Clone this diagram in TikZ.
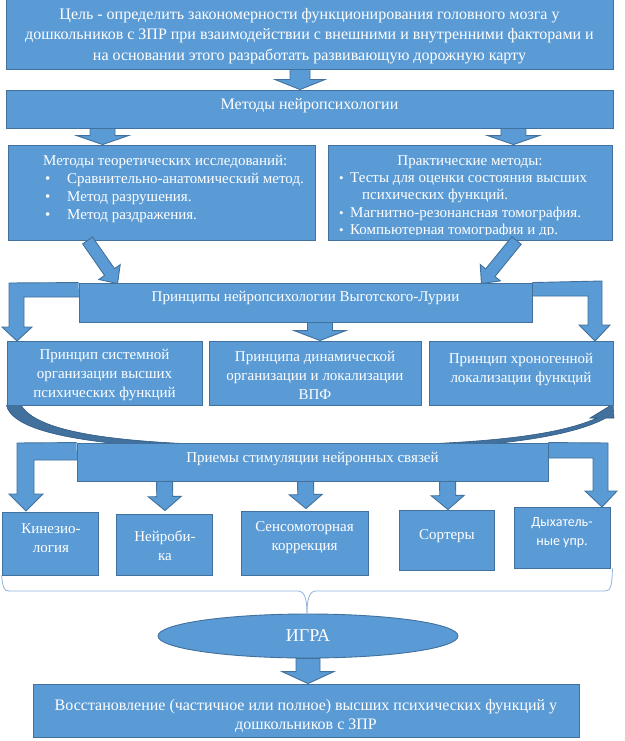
\documentclass[tikz,border=0pt]{standalone}
\usepackage{fontspec}
\setmainfont{Liberation Serif}
\newfontfamily\sansf{Carlito}
\usetikzlibrary{calc,shapes.geometric}
\pgfdeclarelayer{bg}
\pgfsetlayers{bg,main}
\definecolor{boxfill}{HTML}{5B9BD5}
\definecolor{boxline}{HTML}{41719C}
\definecolor{ribfill}{HTML}{41719C}
\definecolor{ribline}{HTML}{2F5A85}
\definecolor{bracecol}{HTML}{8FB4DE}
\newcommand\myfs[2]{\fontsize{#1bp}{#2bp}\selectfont}
\tikzset{
  box/.style={draw=boxline, fill=boxfill, line width=0.9bp, inner sep=0pt, rectangle},
  txt/.style={text=white, align=center, font=\myfs{15}{19}, inner sep=0pt},
  blockarrow/.style={draw=boxline, fill=boxfill, line width=0.9bp, line join=miter},
  ribbon/.style={draw=ribline, fill=ribfill, line width=0.6bp},
  bracel/.style={draw=bracecol, line width=0.8bp},
}
\newcommand\blockarr[5]{%
  \coordinate (ba-s) at #1;
  \coordinate (ba-t) at #2;
  \coordinate (ba-h) at ($(ba-t)!#5!(ba-s)$);
  \filldraw[blockarrow] ($(ba-s)!#3!90:(ba-t)$) -- ($(ba-h)!#3!90:(ba-t)$) -- ($(ba-h)!#4!90:(ba-t)$) -- (ba-t) -- ($(ba-h)!#4!-90:(ba-t)$) -- ($(ba-h)!#3!-90:(ba-t)$) -- ($(ba-s)!#3!-90:(ba-t)$) -- cycle;
}
\begin{document}
\begin{tikzpicture}[x=1bp,y=-1bp]
\useasboundingbox (0,0) rectangle (625,741);
\begin{pgfonlayer}{bg}
\fill[white] (0,0) rectangle (625,741);
\end{pgfonlayer}

% ---- boxes ----
\node[box, minimum width=607bp, minimum height=70bp] (goal) at (309.5,34) {};
\node[txt, font=\myfs{16}{20.5}] (goalt) at (309.5,36) {Цель - определить закономерности функционирования головного мозга у\\дошкольников с ЗПР при взаимодействии с внешними и внутренними факторами и\\на основании этого разработать развивающую дорожную карту};

\node[box, minimum width=607bp, minimum height=38bp] (methods) at (309.5,109) {};
\node[txt, font=\myfs{16}{19}] (methodst) at (309.5,106) {Методы нейропсихологии};

\node[box, minimum width=307bp, minimum height=95bp] (theory) at (161.5,192.5) {};
\node[txt, align=left, anchor=west, font=\myfs{15}{18}] (theoryt) at (43,189) {Методы теоретических исследований:\\
\hspace*{2bp}\makebox[22bp][l]{\myfs{15}{15}•}Сравнительно-анатомический метод.\\
\hspace*{2bp}\makebox[22bp][l]{\myfs{15}{15}•}Метод разрушения.\\
\hspace*{2bp}\makebox[22bp][l]{\myfs{15}{15}•}Метод раздражения.};

\node[box, minimum width=284bp, minimum height=95bp] (prac) at (470,192.5) {};
\node[txt] (pract) at (470,162) {Практические методы:};
\begin{scope}
\clip ($(prac.north west)+(1,1)$) rectangle ($(prac.south east)+(-1,-6)$);
\node[txt, align=left, anchor=west, font=\myfs{15}{17.5}] (praci) at (339,205) {\makebox[11bp][l]{\myfs{13}{13}•}Тесты для оценки состояния высших\\
\hspace*{23bp}психических функций.\\
\makebox[11bp][l]{\myfs{13}{13}•}Магнитно-резонансная томография.\\
\makebox[11bp][l]{\myfs{13}{13}•}Компьютерная томография и др.};
\end{scope}

\node[box, minimum width=453bp, minimum height=39bp] (princ) at (305.5,302.5) {};
\node[txt] (princt) at (305.5,298) {Принципы нейропсихологии Выготского-Лурии};

\node[box, minimum width=195bp, minimum height=64bp] (p1) at (104.5,373) {};
\node[txt] (p1t) at (104.5,375) {Принцип системной\\организации высших\\психических функций};
\node[box, minimum width=212bp, minimum height=64bp] (p2) at (315,373) {};
\node[txt] (p2t) at (315,375) {Принципа динамической\\организации и локализации\\ВПФ};
\node[box, minimum width=184bp, minimum height=64bp] (p3) at (521,373) {};
\node[txt] (p3t) at (521,369) {Принцип хроногенной\\локализации функций};

\node[box, minimum width=471bp, minimum height=38bp] (tech) at (312.5,462) {};
\node[txt] (techt) at (312.5,459) {Приемы стимуляции нейронных связей};

\node[box, minimum width=96bp, minimum height=63bp] (b1) at (50,543.5) {};
\node[txt] (b1t) at (51,538.5) {Кинезио-\\логия};
\node[box, minimum width=96bp, minimum height=61bp] (b2) at (164,544.5) {};
\node[txt] (b2t) at (165,546) {Нейроби-\\ка};
\node[box, minimum width=127bp, minimum height=64bp] (b3) at (304.5,543) {};
\node[txt] (b3t) at (304.5,538) {Сенсомоторная\\коррекция};
\node[box, minimum width=95bp, minimum height=60bp] (b4) at (446.5,540) {};
\node[txt] (b4t) at (447,536) {Сортеры};
\node[box, minimum width=96bp, minimum height=61bp] (b5) at (562,537.5) {};
\node[txt, font=\sansf\myfs{14}{19}] (b5t) at (562,532.5) {Дыхатель-\\ные упр.};

\node[box, ellipse, minimum width=300bp, minimum height=44bp, text=white, font=\myfs{18}{20}] (game) at (308,636) {ИГРА};

\node[box, minimum width=546bp, minimum height=53bp] (final) at (306,710.5) {};
\node[txt, font=\myfs{16}{19}] (finalt) at (306,716) {Восстановление (частичное или полное) высших психических функций у\\дошкольников с ЗПР};

% ---- bent arrows and ribbon (behind boxes) ----
\begin{pgfonlayer}{bg}
\filldraw[blockarrow] (princ.north west) -- (9,283) -- (9,327) -- (2,327) -- (17,341) -- (32,327) -- (24,327) -- (24,297) -- (79,297);
\filldraw[blockarrow] (princ.north east) -- (602,281) -- (602,325) -- (610,325) -- (595,341) -- (579,325) -- (588,325) -- (588,296) -- (532,296);
\filldraw[blockarrow] (tech.north west) -- (17,443) -- (17,494) -- (9,494) -- (26,511) -- (43,494) -- (34,494) -- (34,460) -- (77,460);
\filldraw[blockarrow] (tech.north east) -- (608,443) -- (608,491) -- (617,491) -- (602,507) -- (585,491) -- (593,491) -- (593,458) -- (548,458);
\filldraw[ribbon] (p1.south west) .. controls (15,442) and (150,451) .. (310,451)
  .. controls (470,451) and (565,440) .. (606,418) -- (614,418) -- (613,404) -- (590,418) -- (597,418)
  .. controls (555,437) and (470,446) .. (310,446)
  .. controls (150,446) and (40,438) .. (21,405) -- cycle;
\end{pgfonlayer}

% ---- block arrows ----
\blockarr{($(goal.south)+(-9.5,0)$)}{($(methods.north)+(-9.5,0)$)}{10bp}{25bp}{10bp}
\blockarr{($(methods.south west)+(97,0)$)}{($(theory.north west)+(95,0)$)}{12.5bp}{26bp}{9bp}
\blockarr{($(methods.south east)+(-100,0)$)}{($(prac.north east)+(-99,0)$)}{12.5bp}{26bp}{9bp}
\blockarr{($(theory.south west)+(80,0)$)}{($(princ.north west)+(39,1)$)}{6bp}{13bp}{14bp}
\blockarr{($(prac.south west)+(189,0)$)}{($(princ.north east)+(-51,1)$)}{6bp}{13bp}{14bp}
\blockarr{($(princ.south)+(14.5,0)$)}{($(p2.north)+(5,0)$)}{12.5bp}{26bp}{10bp}
\blockarr{($(tech.south west)+(88,0)$)}{($(b2.north)+(1,-3)$)}{8bp}{16.5bp}{14bp}
\blockarr{($(tech.south west)+(229,0)$)}{($(b3.north)+(1.5,-2)$)}{8bp}{16.5bp}{14bp}
\blockarr{($(tech.south west)+(371,0)$)}{($(b4.north)+(1.5,0)$)}{8bp}{16.5bp}{14bp}
\blockarr{(game.south)}{($(final.north)+(2,0)$)}{12bp}{26bp}{12bp}

% ---- brace ----
\draw[bracel] (b1.south west) .. controls (3,588) and (4,591) .. (9,591) -- (298,591)
  .. controls (305,591) and (307,600) .. (307,614);
\draw[bracel] (307,614) .. controls (307,600) and (309,591) .. (316,591) -- (605,591)
  .. controls (611,591) and (612,585) .. ($(b5.south east)+(2,0)$);
\end{tikzpicture}
\end{document}
